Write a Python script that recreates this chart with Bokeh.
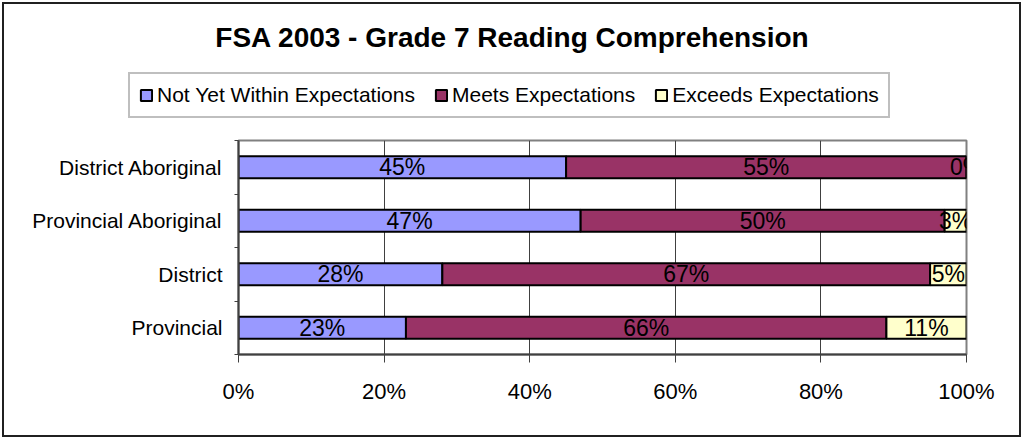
from bokeh.plotting import figure
from bokeh.layouts import column
from bokeh.models import (ColumnDataSource, FixedTicker, Legend, LegendItem, Label,
                          LabelSet, Range1d)
from bokeh.embed import file_html
from bokeh.resources import INLINE
from bokeh.core.properties import value

title_text = "FSA 2003 - Grade 7 Reading Comprehension"
categories = ["District Aboriginal", "Provincial Aboriginal", "District", "Provincial"]
series_names = ["Not Yet Within Expectations", "Meets Expectations", "Exceeds Expectations"]
not_yet = [45, 47, 28, 23]
meets = [55, 50, 67, 66]
exceeds = [0, 3, 5, 11]
x_ticks = [0, 20, 40, 60, 80, 100]
x_tick_labels = ["0%", "20%", "40%", "60%", "80%", "100%"]
colors = ["#9999FF", "#993366", "#FFFFCC"]

FONT = "Liberation Sans"
n = len(categories)
ypos = [n - i - 0.5 for i in range(n)]

W = 1015          # content width inside a 2px border
TOP_H = 126
MAIN_H = 305

# ---------- shared data ----------
series = [not_yet, meets, exceeds]
sources = []
left = [0] * n
for vals in series:
    right = [l + v for l, v in zip(left, vals)]
    sources.append(ColumnDataSource(dict(y=ypos, left=left, right=right,
                                         mid=[(l + r) / 2 for l, r in zip(left, right)],
                                         lab=[f"{v}%" for v in vals])))
    left = right

# ---------- header figure: title + legend ----------
ph = figure(width=W, height=TOP_H, output_backend="svg", toolbar_location=None,
            x_range=Range1d(0, W), y_range=Range1d(0, TOP_H),
            min_border=0, x_axis_location=None, y_axis_location=None)
ph.frame_align = False
ph.outline_line_color = None
ph.grid.visible = False
ph.background_fill_color = "white"
ph.border_fill_color = "white"

t = Label(x=508, y=TOP_H - 33, text=title_text,
          text_font=FONT, text_font_size="28px", text_font_style="bold",
          text_align="center", text_baseline="middle", text_color="black")
ph.add_layout(t)

dummy = []
for nm, col, src in zip(series_names, colors, sources):
    r = ph.hbar(y="y", left="left", right="right", height=0.41, source=src,
                fill_color=col, line_color="black", line_width=2, visible=False)
    dummy.append((nm, r))

legend = Legend(items=[LegendItem(label=nm, renderers=[r], index=0) for nm, r in dummy],
                orientation="horizontal", location=(124, TOP_H - 114),
                label_text_font=FONT, label_text_font_size="21px",
                label_text_color="black", glyph_width=14, glyph_height=14,
                label_standoff=4, spacing=19, padding=9, margin=0,
                border_line_color="#808080", border_line_width=2,
                background_fill_color="white", background_fill_alpha=1.0)
ph.add_layout(legend, "center")

# ---------- main chart ----------
p = figure(width=W, height=MAIN_H, output_backend="svg", toolbar_location=None,
           x_range=Range1d(0, 100), y_range=Range1d(0, n),
           min_border_left=234, min_border_right=53, min_border_top=10,
           min_border_bottom=81)
p.frame_align = False
p.background_fill_color = "white"
p.border_fill_color = "white"
p.outline_line_color = "#808080"
p.outline_line_width = 2

for col, src in zip(colors, sources):
    p.hbar(y="y", left="left", right="right", height=0.41, source=src,
           fill_color=col, line_color="black", line_width=2)
    ls = LabelSet(x="mid", y="y", text="lab", source=src, text_align="center",
                  text_baseline="middle", text_font=value(FONT),
                  text_font_size="23px", text_color="black")
    p.add_layout(ls)

p.xaxis.ticker = FixedTicker(ticks=x_ticks, minor_ticks=[])
p.xaxis.major_label_overrides = {t: l for t, l in zip(x_ticks, x_tick_labels)}
p.xaxis.major_label_text_font = FONT
p.xaxis.major_label_text_font_size = "22px"
p.xaxis.major_label_text_color = "black"
p.xaxis.major_tick_out = 8
p.xaxis.major_tick_in = 0
p.xaxis.major_tick_line_color = "#404040"
p.xaxis.major_label_standoff = 16
p.xaxis.axis_line_color = "#404040"
p.xaxis.axis_line_width = 2

p.yaxis.ticker = FixedTicker(ticks=ypos, minor_ticks=list(range(n + 1)))
p.yaxis.major_label_overrides = {y: c for y, c in zip(ypos, categories)}
p.yaxis.major_label_text_font = FONT
p.yaxis.major_label_text_font_size = "21px"
p.yaxis.major_label_text_color = "black"
p.yaxis.major_tick_out = 0
p.yaxis.major_tick_in = 0
p.yaxis.minor_tick_out = 4
p.yaxis.minor_tick_in = 0
p.yaxis.minor_tick_line_color = "#404040"
p.yaxis.major_label_standoff = 12
p.yaxis.axis_line_color = "#404040"
p.yaxis.axis_line_width = 2

p.xgrid.ticker = FixedTicker(ticks=x_ticks)
p.xgrid.grid_line_color = "#404040"
p.xgrid.grid_line_width = 1
p.ygrid.grid_line_color = None

layout = column(ph, p, spacing=0,
                styles={"border": "2px solid #202020", "margin-left": "2px",
                        "margin-top": "2px"})

open("out.html", "w").write(file_html(layout, INLINE))
